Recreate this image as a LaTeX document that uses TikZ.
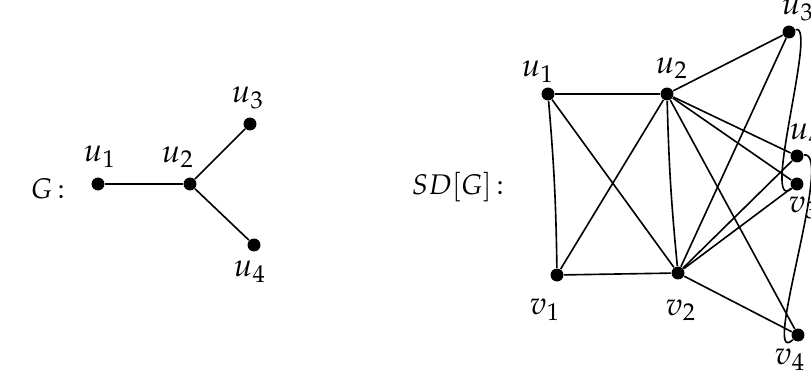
\documentclass[tikz,border=0pt]{standalone}
\usepackage{mathpazo}
\usepackage{tikz}
\tikzset{
  vtx/.style  = {circle,fill,inner sep=0pt,minimum size=4.8pt},
  vlbl/.style = {inner sep=0pt,font=\large},
  gname/.style = {inner sep=0pt,font=\fontsize{10.5}{12}\selectfont},
  edge/.style = {line width=0.6pt}
}
\newcommand{\gvert}[6]{%
  \node[vtx] (#1) at (#2,#3) {};
  \node[vlbl] (#1l) at (#5,#6) {#4};
}

\begin{document}
\begin{tikzpicture}[x=0.013cm,y=-0.013cm]
  \useasboundingbox (0,0) rectangle (811,376);
  % G
  \node[gname] (gtitle) at (48,189) {$G\,{:}$};
  \gvert{a1}{98}{184}{$u_1$}{100}{157}
  \gvert{a2}{190}{184}{$u_2$}{178}{157}
  \gvert{a3}{250}{124}{$u_3$}{248}{98}
  \gvert{a4}{254}{245}{$u_4$}{250}{272}
  \draw[edge] (a1) -- (a2);
  \draw[edge] (a2) -- (a3);
  \draw[edge] (a2) -- (a4);
  % SD[G]
  \node[gname] (sdtitle) at (458,187) {$SD[G]\,{:}$};
  \gvert{u1}{548}{94}{$u_1$}{538}{72}
  \gvert{u2}{667}{94}{$u_2$}{672}{68}
  \gvert{u3}{789}{32}{$u_3$}{798}{10}
  \gvert{u4}{797}{156}{$u_4$}{806}{135}
  \gvert{v1}{557}{275}{$v_1$}{545}{310}
  \gvert{v2}{678}{273}{$v_2$}{681}{310}
  \gvert{v3}{797}{184}{$v_3$}{804}{208}
  \gvert{v4}{798}{335}{$v_4$}{790}{360}
  \draw[edge] (u1) -- (u2);
  \draw[edge] (v1) -- (v2);
  \draw[edge] (u1) to[bend left=2] (v1);
  \draw[edge] (u2) to[bend right=2] (v2);
  \draw[edge] (u1) -- (v2);
  \draw[edge] (u2) -- (v1);
  \foreach \t in {u3,u4,v3,v4}{
    \draw[edge] (u2) -- (\t);
    \draw[edge] (v2) -- (\t);
  }
  \draw[edge] (u3) .. controls (818,22) and (760,215) .. (v3);
  \draw[edge] (u4) .. controls (835,150) and (760,370) .. (v4);
\end{tikzpicture}
\end{document}
